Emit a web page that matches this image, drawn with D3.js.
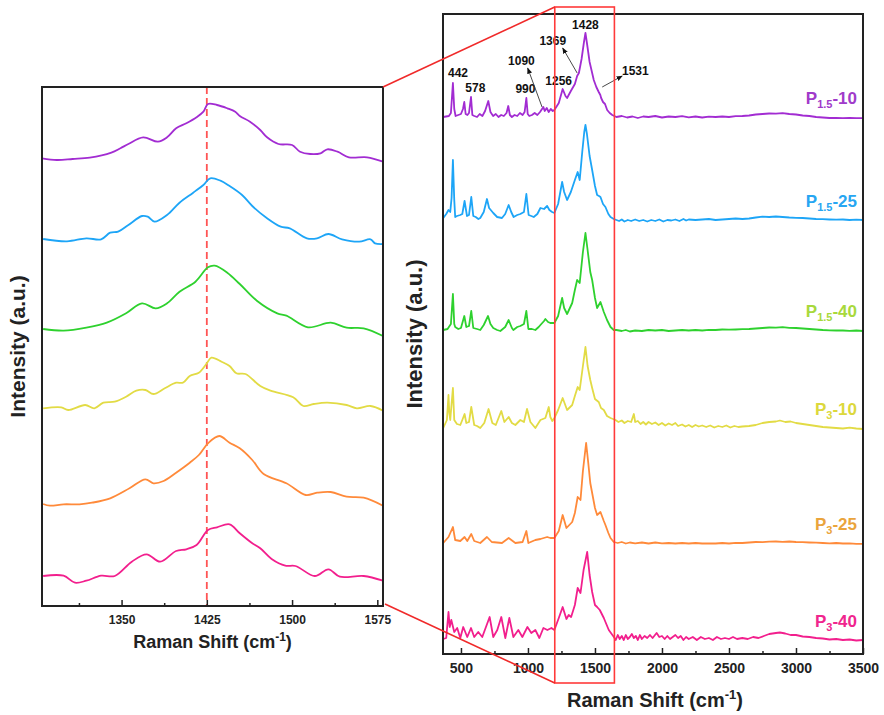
<!DOCTYPE html>
<html>
<head>
<meta charset="utf-8">
<script src="https://cdn.jsdelivr.net/npm/d3@7"></script>
<style>
  body { margin: 0; background: #fff; }
  text { font-family: Arial, "Liberation Sans", sans-serif; font-weight: bold; }
</style>
</head>
<body>
<svg id="chart" width="884" height="715"></svg>
<script>
// sample labels, top to bottom
let labelSubs = ["1.5", "1.5", "1.5", "3", "3", "3"];
let labelTails = ["-10", "-25", "-40", "-10", "-25", "-40"];
let lineColors = ["#A22CD2", "#1DA5F7", "#2ED12E", "#E2DB45", "#FF8A3A", "#F21F8D"];
let labelColors = ["#A03BCA", "#27A6F2", "#A8D93C", "#DCD83C", "#EAA43C", "#F0258E"];

// full spectra [Raman shift, intensity above own baseline]
let full_p15_10 = [[368,0],[410,1],[425,4],[440,34],[450,8],[460,1],[480,2],[500,3],[515,8],[525,15],[535,3],[548,2],[560,4],[575,20],[585,2],[600,1],[620,0],[640,3],[660,1],[680,6],[704,16],[720,5],[740,1],[760,3],[780,0],[800,2],[820,1],[840,4],[853,11],[865,2],[880,0],[900,2],[920,1],[940,4],[960,2],[975,5],[988,19],[998,3],[1010,1],[1030,2],[1050,4],[1070,2],[1090,5],[1105,8],[1115,10],[1125,6],[1140,9],[1155,5],[1170,8],[1185,6],[1197,7],[1230,14],[1259,28],[1280,21],[1292,19],[1320,26],[1350,33],[1367,41],[1380,44],[1400,58],[1418,75],[1429,84],[1440,74],[1460,55],[1479,44],[1491,37],[1510,30],[1528,25],[1540,22],[1546,19],[1560,15],[1575,13],[1591,7],[1610,4],[1629,2],[1660,0],[1700,1],[1740,-0.5],[1780,0.5],[1820,-1],[1860,0.5],[1900,0],[1950,1],[2000,-0.5],[2050,0.5],[2100,0],[2150,0.8],[2200,-0.3],[2250,0.5],[2300,-0.5],[2350,0.3],[2400,0],[2450,0.5],[2500,0],[2550,0.8],[2600,1],[2650,1.5],[2700,2.5],[2750,3],[2800,3.5],[2850,3.3],[2900,3.8],[2950,3],[3000,2.5],[3050,1.5],[3100,1],[3150,0],[3200,-0.5],[3250,-1],[3300,-1],[3350,-1.2],[3400,-0.8],[3450,-1.2],[3500,-1.2]];
let full_p15_25 = [[368,2],[390,6],[407,10],[420,8],[430,22],[440,60],[450,20],[457,3],[470,4],[495,5],[510,6],[527,19],[545,4],[560,5],[577,23],[592,4],[610,3],[630,1],[644,2],[670,8],[694,21],[710,12],[741,7],[770,3],[806,2],[830,6],[856,15],[875,8],[893,3],[920,5],[943,6],[970,8],[988,26],[1005,5],[1025,4],[1043,3],[1070,6],[1093,12],[1120,11],[1143,14],[1160,10],[1180,8],[1197,7],[1225,16],[1255,38],[1270,28],[1292,20],[1320,28],[1350,40],[1371,48],[1386,40],[1405,68],[1420,88],[1429,95],[1440,86],[1460,64],[1479,50],[1500,34],[1516,25],[1530,24],[1541,23],[1560,16],[1578,13],[1600,6],[1616,3],[1640,1],[1660,0],[1680,-1],[1700,0.5],[1720,-1.5],[1745,0],[1770,-1],[1800,0.5],[1830,-1],[1860,0],[1890,-1.5],[1920,0],[1950,-1],[1980,0.5],[2010,-1.5],[2040,0],[2070,-0.5],[2100,0.5],[2130,-1],[2160,1],[2180,-0.5],[2200,0.5],[2250,0],[2300,0.5],[2350,1],[2400,0],[2450,0.5],[2500,1],[2550,1.5],[2600,1],[2650,1.5],[2700,2.5],[2750,3.3],[2800,3],[2850,3.5],[2900,3],[2950,2.5],[3000,2.2],[3050,2],[3100,1.5],[3150,1],[3200,0.8],[3250,0.5],[3300,0.3],[3350,0.5],[3400,0],[3450,0.3],[3500,0]];
let full_p15_40 = [[368,0],[400,1],[425,6],[440,36],[450,6],[457,3],[480,1],[500,2],[525,14],[540,3],[560,4],[577,19],[592,2],[620,1],[644,0],[670,5],[702,14],[720,6],[741,2],[770,0],[794,-1],[830,3],[856,10],[880,2],[891,0],[920,3],[943,4],[970,6],[988,19],[1003,1],[1030,1],[1055,0],[1080,3],[1093,5],[1120,9],[1130,11],[1150,8],[1167,7],[1197,7],[1225,14],[1255,32],[1270,22],[1292,16],[1330,27],[1350,40],[1367,50],[1386,47],[1410,78],[1429,97],[1445,80],[1465,58],[1479,50],[1500,32],[1516,22],[1541,28],[1566,18],[1590,10],[1616,3],[1640,0],[1660,0],[1700,-1],[1730,0],[1760,-1.5],[1800,-0.5],[1850,-1],[1900,0],[1950,-0.5],[2000,0],[2050,-1],[2100,-0.5],[2150,0],[2200,-0.5],[2250,0],[2300,-0.5],[2350,0.2],[2400,0],[2450,0.5],[2500,0.3],[2550,0.5],[2600,0.8],[2650,1],[2700,1.5],[2750,2],[2800,2.5],[2850,2.3],[2900,2.8],[2950,2.2],[3000,2],[3050,1.5],[3100,1],[3150,0.5],[3200,0],[3250,-0.3],[3300,-0.5],[3350,-0.5],[3400,-0.8],[3450,-0.5],[3500,-1]];
let full_p3_10 = [[368,0],[395,8],[407,33],[413,15],[420,8],[440,40],[450,8],[470,4],[495,3],[510,8],[527,14],[540,5],[560,6],[577,21],[599,3],[620,2],[644,0],[674,5],[706,19],[734,5],[760,3],[801,17],[824,6],[856,11],[880,5],[906,3],[943,8],[970,6],[993,19],[1018,6],[1055,0],[1093,8],[1130,10],[1155,21],[1167,11],[1182,7],[1197,10],[1225,18],[1259,30],[1292,18],[1330,23],[1350,32],[1371,41],[1386,38],[1410,62],[1429,81],[1445,62],[1465,48],[1479,40],[1500,29],[1528,26],[1545,20],[1566,18],[1590,12],[1616,10],[1653,8],[1675,6],[1700,7.5],[1720,5],[1745,7],[1770,6],[1790,14],[1800,6],[1820,7],[1840,4],[1860,6],[1880,3.5],[1900,6],[1925,4],[1950,5.5],[1975,3],[2000,5],[2025,2.5],[2050,4.5],[2075,3],[2100,5],[2120,2],[2150,3.5],[2175,1.5],[2200,3],[2225,1],[2250,3],[2275,1.5],[2300,2.5],[2330,1],[2360,2.5],[2390,0.5],[2420,2],[2450,1],[2480,2.5],[2510,0.5],[2540,2],[2570,1],[2600,1.5],[2650,2],[2700,3],[2750,5],[2800,6],[2850,6.5],[2880,7.5],[2920,6],[2960,6.5],[3000,5],[3050,4],[3100,3],[3150,2],[3200,1],[3250,0.5],[3300,0],[3350,-0.5],[3400,0.3],[3450,-0.5],[3500,-1]];
let full_p3_25 = [[368,0],[407,6],[440,16],[457,3],[495,2],[527,6],[547,2],[577,9],[599,2],[644,0],[694,6],[730,1],[806,0],[856,5],[906,0],[960,1],[988,12],[1003,0],[1055,3],[1093,4],[1143,6],[1167,5],[1197,5],[1230,12],[1259,28],[1287,15],[1330,21],[1350,30],[1371,46],[1392,43],[1410,72],[1434,100],[1450,80],[1465,60],[1479,50],[1500,35],[1516,28],[1541,31],[1566,22],[1578,18],[1600,10],[1616,5],[1640,1],[1670,0],[1700,1],[1730,-0.5],[1760,0.5],[1800,-0.3],[1850,0.5],[1900,-0.5],[1950,0.5],[2000,-0.3],[2050,0],[2100,-0.5],[2150,0],[2200,-0.5],[2250,0],[2300,-0.5],[2350,-0.3],[2400,-0.5],[2450,0],[2500,-0.5],[2550,0.2],[2600,0],[2650,0.5],[2700,1],[2750,0.8],[2800,1.3],[2850,1.5],[2900,1.2],[2950,1.5],[3000,1],[3050,0.8],[3100,0.5],[3150,0.3],[3200,0],[3250,-0.3],[3300,0],[3350,-0.5],[3400,-0.3],[3450,-0.8],[3500,-0.8]];
let full_p3_40 = [[368,1],[390,2],[407,28],[416,13],[428,20],[450,8],[472,12],[495,2],[517,13],[547,3],[575,12],[599,3],[629,8],[659,3],[714,23],[741,3],[771,10],[801,23],[831,2],[861,22],[891,3],[928,10],[958,3],[996,13],[1025,7],[1055,10],[1085,2],[1115,12],[1145,10],[1175,12],[1197,10],[1230,22],[1259,33],[1287,21],[1304,25],[1322,23],[1350,35],[1371,52],[1392,47],[1415,70],[1442,88],[1460,65],[1479,48],[1500,35],[1516,33],[1536,30],[1566,22],[1603,10],[1641,3],[1655,0],[1670,5],[1685,1],[1700,4],[1715,0],[1730,5],[1745,1],[1760,3],[1775,6],[1790,2],[1805,4],[1820,0],[1835,5],[1850,1],[1870,4],[1890,2],[1910,5],[1930,2],[1960,7],[1980,3],[2000,4],[2020,1],[2040,4],[2060,1],[2080,3],[2100,5],[2120,2],[2140,4],[2160,0],[2180,3],[2200,1],[2230,3],[2260,0],[2290,3],[2320,1],[2350,2],[2380,0],[2410,3],[2440,1],[2470,2],[2500,1],[2530,3],[2560,1],[2600,2],[2640,1],[2680,3],[2720,2],[2760,4],[2800,6],[2850,7],[2880,7.5],[2920,6.5],[2960,5],[3000,5],[3050,3.5],[3100,3],[3150,2],[3200,1.5],[3250,0.5],[3300,1],[3350,0],[3400,0.5],[3450,-0.5],[3500,0]];

// zoomed 1280-1580 region
let zoom_p15_10 = [[1280,3.7],[1293,2],[1307,3],[1322,4.3],[1341,9.3],[1349,13.7],[1356,18],[1369,24.7],[1382,20.3],[1390,24.7],[1398,33.7],[1407,38.7],[1416,44.7],[1422,50.3],[1426,58],[1434,57],[1443,53.7],[1450,50.3],[1454,46],[1463,40.3],[1472,32],[1478,24.7],[1488,18],[1500,17],[1507,10.3],[1516,8],[1525,8.7],[1531,12.7],[1540,10.3],[1550,4.7],[1566,4.7],[1580,0.3]];
let zoom_p15_25 = [[1281,5],[1302,2.7],[1319,5.7],[1332,4.7],[1340,11.3],[1347,12.3],[1356,19],[1368,28],[1373,27.3],[1379,22.3],[1390,29],[1401,41.3],[1413,51.3],[1422,59],[1428,65.7],[1437,63.3],[1445,58],[1456,49],[1465,38],[1478,25.7],[1490,17.3],[1498,15.7],[1513,5.7],[1522,5.7],[1532,10],[1544,4.7],[1559,2.3],[1569,4.7],[1573,0.7],[1580,0]];
let zoom_p15_40 = [[1281,7],[1299,5.3],[1319,8.3],[1337,13.3],[1354,22.7],[1368,32.7],[1380,27.7],[1390,32.7],[1401,44.3],[1415,54.3],[1426,68.7],[1432,70.3],[1443,63.3],[1454,52],[1469,35.3],[1487,22.7],[1495,20.3],[1514,8.7],[1534,13.3],[1548,8.3],[1563,7.7],[1580,0]];
let zoom_p3_10 = [[1281,2.7],[1297,3.7],[1303,1],[1318,6],[1326,2.7],[1334,8.3],[1344,9.3],[1354,14.3],[1363,20.3],[1371,21],[1378,17],[1388,22.7],[1398,28.3],[1404,28.3],[1410,35],[1418,38.3],[1425,47.7],[1429,53.3],[1438,49.3],[1445,45],[1451,37.7],[1459,37],[1472,25],[1481,20.3],[1501,13.7],[1510,5],[1519,7],[1531,8.3],[1548,6],[1557,2.7],[1569,5],[1580,0.3]];
let zoom_p3_25 = [[1281,2],[1287,0.3],[1299,1.7],[1313,1.7],[1324,3.3],[1340,7.7],[1357,17.7],[1371,26.7],[1378,22.7],[1387,25],[1398,33.3],[1410,43.3],[1418,51],[1426,62.7],[1436,70],[1445,63.3],[1454,57.7],[1465,46],[1475,32],[1495,22.7],[1512,11],[1522,13.3],[1534,14],[1548,9.3],[1563,8.3],[1580,0.3]];
let zoom_p3_40 = [[1281,7],[1299,7.3],[1309,0.3],[1319,2.3],[1332,7.3],[1344,7],[1359,21.3],[1372,28.7],[1384,21.3],[1398,32],[1407,33.7],[1416,38],[1426,53],[1434,55.7],[1445,58.7],[1454,49.7],[1465,39.7],[1472,34.7],[1482,24],[1494,17.3],[1503,17],[1520,7],[1532,13.7],[1542,6.3],[1563,7],[1580,2.3]];

let fullSpectra = [full_p15_10, full_p15_25, full_p15_40, full_p3_10, full_p3_25, full_p3_40];
let zoomSpectra = [zoom_p15_10, zoom_p15_25, zoom_p15_40, zoom_p3_10, zoom_p3_25, zoom_p3_40];
let fullOffsets = [537, 434, 324, 226, 111, 14];
let zoomOffsets = [444, 362, 270, 195, 100, 23];

// axes
let fullTicks = [500, 1000, 1500, 2000, 2500, 3000, 3500];
let fullMinor = [750, 1250, 1750, 2250, 2750, 3250];
let zoomTicks = [1350, 1425, 1500, 1575];
let zoomMinor = [1312.5, 1387.5, 1462.5, 1537.5];
let zoomWindow = [1200, 1645];
let markedShift = 1425;

// peak labels on the top spectrum: [text, shift, intensity]
let peakLabels = [["442", 478, 577], ["578", 607, 562], ["990", 981, 561], ["1090", 951, 589], ["1256", 1229, 569], ["1369", 1185, 609], ["1428", 1429, 625], ["1531", 1801, 579]];
// arrows: [tail shift, tail int, head shift, head int]
let peakArrows = [[1105, 547, 998, 586], [1367, 581, 1259, 606], [1554, 567, 1703, 578]];

const svg = d3.select("#chart");
svg.append("defs").append("marker")
    .attr("id", "arrow")
    .attr("viewBox", "0 0 10 10")
    .attr("refX", 9).attr("refY", 5)
    .attr("markerWidth", 7).attr("markerHeight", 7)
    .attr("orient", "auto")
  .append("path")
    .attr("d", "M0,1L10,5L0,9Z")
    .attr("fill", "#111");

// ---------- left (zoom) panel ----------
let xL = d3.scaleLinear().domain([1280, 1580]).range([42, 383]);
let yL = d3.scaleLinear().domain([0, 519]).range([606, 87]);

let left = svg.append("g");

left.append("line")
    .attr("x1", xL(markedShift)).attr("x2", xL(markedShift))
    .attr("y1", yL(519)).attr("y2", yL(0))
    .attr("stroke", "#FF5454").attr("stroke-width", 1.8)
    .attr("stroke-dasharray", "7,4");

zoomSpectra.forEach((data, i) => {
  let line = d3.line()
      .x(d => xL(d[0]))
      .y(d => yL(zoomOffsets[i] + d[1]))
      .curve(d3.curveCatmullRom);
  left.append("path")
      .attr("d", line(data))
      .attr("fill", "none")
      .attr("stroke", lineColors[i])
      .attr("stroke-width", 1.8);
});

let lAxis = left.append("g")
    .attr("transform", `translate(0,${yL(0)})`)
    .call(d3.axisBottom(xL).tickValues(zoomTicks).tickFormat(d3.format("d")).tickSize(-6).tickPadding(9));
lAxis.select(".domain").remove();
lAxis.selectAll("line").attr("stroke", "#222").attr("stroke-width", 1.5);
lAxis.selectAll("text").attr("font-size", 12).attr("font-family", "Arial, 'Liberation Sans'").attr("font-weight", "bold").attr("fill", "#222");
let lMinor = left.append("g")
    .attr("transform", `translate(0,${yL(0)})`)
    .call(d3.axisBottom(xL).tickValues(zoomMinor).tickSize(-3).tickFormat(""));
lMinor.select(".domain").remove();
lMinor.selectAll("line").attr("stroke", "#222").attr("stroke-width", 1.5);

left.append("rect")
    .attr("x", xL(1280)).attr("y", yL(519))
    .attr("width", xL(1580) - xL(1280)).attr("height", yL(0) - yL(519))
    .attr("fill", "none").attr("stroke", "#222").attr("stroke-width", 2);

let lTitle = left.append("text")
    .attr("x", (xL(1280) + xL(1580)) / 2).attr("y", 648)
    .attr("text-anchor", "middle").attr("font-size", 18).attr("fill", "#222");
lTitle.append("tspan").text("Raman Shift (cm");
lTitle.append("tspan").text("-1").attr("font-size", 12).attr("dy", -7);
lTitle.append("tspan").text(")").attr("dy", 7);

left.append("text")
    .attr("transform", `translate(25,${(yL(0) + yL(519)) / 2}) rotate(-90)`)
    .attr("text-anchor", "middle").attr("font-size", 21).attr("fill", "#222")
    .text("Intensity (a.u.)");

// ---------- right (full) panel ----------
let xR = d3.scaleLinear().domain([366, 3500]).range([443, 863]);
let yR = d3.scaleLinear().domain([0, 640]).range([654, 14]);

let right = svg.append("g");

fullSpectra.forEach((data, i) => {
  let line = d3.line()
      .x(d => xR(d[0]))
      .y(d => yR(fullOffsets[i] + d[1]));
  right.append("path")
      .attr("d", line(data))
      .attr("fill", "none")
      .attr("stroke", lineColors[i])
      .attr("stroke-width", 1.8)
      .attr("stroke-linejoin", "round");

  let label = right.append("text")
      .attr("x", 857).attr("y", yR(fullOffsets[i] + 13))
      .attr("text-anchor", "end").attr("font-size", 17)
      .attr("fill", labelColors[i]);
  label.append("tspan").text("P");
  label.append("tspan").text(labelSubs[i]).attr("font-size", 11).attr("dy", 4);
  label.append("tspan").text(labelTails[i]).attr("dy", -4);
});

let rAxis = right.append("g")
    .attr("transform", `translate(0,${yR(0)})`)
    .call(d3.axisBottom(xR).tickValues(fullTicks).tickFormat(d3.format("d")).tickSize(-6).tickPadding(9));
rAxis.select(".domain").remove();
rAxis.selectAll("line").attr("stroke", "#222").attr("stroke-width", 1.5);
rAxis.selectAll("text").attr("font-size", 14).attr("font-family", "Arial, 'Liberation Sans'").attr("font-weight", "bold").attr("fill", "#222");
let rMinor = right.append("g")
    .attr("transform", `translate(0,${yR(0)})`)
    .call(d3.axisBottom(xR).tickValues(fullMinor).tickSize(-3).tickFormat(""));
rMinor.select(".domain").remove();
rMinor.selectAll("line").attr("stroke", "#222").attr("stroke-width", 1.5);

right.append("rect")
    .attr("x", xR(366)).attr("y", yR(640))
    .attr("width", xR(3500) - xR(366)).attr("height", yR(0) - yR(640))
    .attr("fill", "none").attr("stroke", "#222").attr("stroke-width", 2);

peakLabels.forEach(p => {
  right.append("text")
      .attr("x", xR(p[1])).attr("y", yR(p[2]))
      .attr("text-anchor", "middle").attr("font-size", 12).attr("fill", "#111")
      .text(p[0]);
});
peakArrows.forEach(a => {
  right.append("line")
      .attr("x1", xR(a[0])).attr("y1", yR(a[1]))
      .attr("x2", xR(a[2])).attr("y2", yR(a[3]))
      .attr("stroke", "#333").attr("stroke-width", 0.9)
      .attr("marker-end", "url(#arrow)");
});

let rTitle = right.append("text")
    .attr("x", (xR(366) + xR(3500)) / 2 + 2).attr("y", 707)
    .attr("text-anchor", "middle").attr("font-size", 20).attr("fill", "#222");
rTitle.append("tspan").text("Raman Shift (cm");
rTitle.append("tspan").text("-1").attr("font-size", 13).attr("dy", -8);
rTitle.append("tspan").text(")").attr("dy", 8);

right.append("text")
    .attr("transform", `translate(422,${(yR(0) + yR(640)) / 2}) rotate(-90)`)
    .attr("text-anchor", "middle").attr("font-size", 22).attr("fill", "#222")
    .text("Intensity (a.u.)");

// ---------- zoom window and connectors ----------
let winTop = yR(640) - 7;
let winBottom = yR(0) + 29;
svg.append("rect")
    .attr("x", xR(zoomWindow[0])).attr("y", winTop)
    .attr("width", xR(zoomWindow[1]) - xR(zoomWindow[0]))
    .attr("height", winBottom - winTop)
    .attr("fill", "none").attr("stroke", "#FF3A3A").attr("stroke-width", 1.6);
svg.append("line")
    .attr("x1", xL(1580)).attr("y1", yL(519))
    .attr("x2", xR(zoomWindow[0])).attr("y2", winTop)
    .attr("stroke", "#F02A2A").attr("stroke-width", 1.6);
svg.append("line")
    .attr("x1", xL(1580) + 2).attr("y1", yL(0) - 2)
    .attr("x2", xR(zoomWindow[0])).attr("y2", winBottom)
    .attr("stroke", "#F02A2A").attr("stroke-width", 1.6);
</script>
</body>
</html>
